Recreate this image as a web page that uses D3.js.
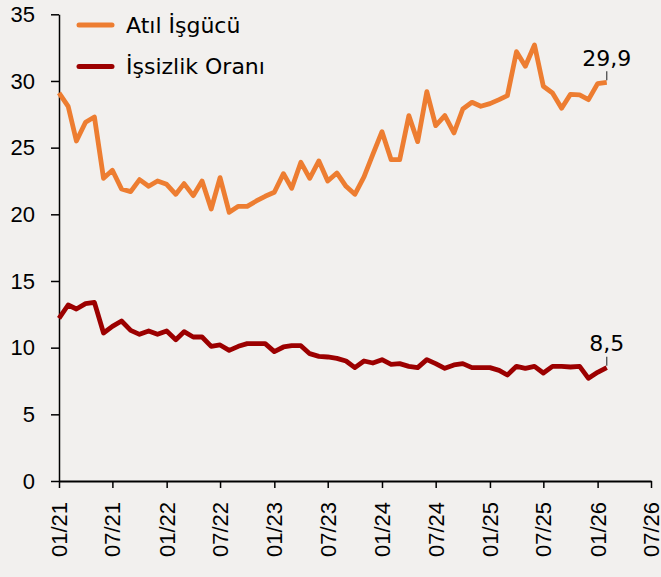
<!DOCTYPE html>
<html>
<head>
<meta charset="utf-8">
<script src="https://cdn.jsdelivr.net/npm/d3@7"></script>
<style>
    body { margin: 0; background: #f2f0ee; }
    svg { display: block; font-family: "DejaVu Sans", sans-serif; }
</style>
</head>
<body>
<div id="plot"></div>
<script>
// Monthly data, 01/2021 .. 02/2026.
var first_month = "2021-01-01";
var last_month = "2026-02-01";

var atil_isgucu = [
    29.1, 28.1, 25.5, 26.9, 27.3, 22.7, 23.3, 21.9, 21.7, 22.6,
    22.1, 22.5, 22.25, 21.5, 22.3, 21.4, 22.5, 20.4, 22.75, 20.15,
    20.6, 20.6, 21.0, 21.35, 21.65, 23.05, 21.95, 23.9, 22.7, 24.0,
    22.5, 23.1, 22.1, 21.5, 22.8, 24.5, 26.2, 24.1, 24.1, 27.4,
    25.45, 29.2, 26.65, 27.4, 26.1, 27.9, 28.4, 28.1, 28.3, 28.6,
    28.9, 32.2, 31.1, 32.7, 29.6, 29.1, 27.95, 29.0, 28.95, 28.6,
    29.8, 29.9
];

var issizlik_orani = [
    12.2, 13.2, 12.9, 13.3, 13.4, 11.1, 11.6, 12.0, 11.3, 11.0,
    11.25, 11.0, 11.25, 10.6, 11.2, 10.8, 10.8, 10.1, 10.2, 9.8,
    10.1, 10.3, 10.3, 10.3, 9.7, 10.05, 10.15, 10.15, 9.55, 9.35,
    9.3, 9.2, 9.0, 8.5, 9.0, 8.85, 9.1, 8.75, 8.8, 8.6,
    8.5, 9.1, 8.8, 8.45, 8.7, 8.8, 8.5, 8.5, 8.5, 8.3,
    7.95, 8.6, 8.45, 8.6, 8.1, 8.6, 8.6, 8.55, 8.6, 7.7,
    8.15, 8.5
];

var series_names = ["Atıl İşgücü", "İşsizlik Oranı"];
var series_colors = ["#ed7d31", "#9c0000"];
var end_labels = ["29,9", "8,5"];

var x_tick_labels = [
    "01/21", "07/21", "01/22", "07/22", "01/23", "07/23",
    "01/24", "07/24", "01/25", "07/25", "01/26", "07/26"
];
var y_ticks = [0, 5, 10, 15, 20, 25, 30, 35];

var width = 661, height = 577;
var left = 59, right = 651, top_y = 14.3, bottom = 481;

var svg = d3.select("div#plot")
    .append("svg")
        .attr("width", width)
        .attr("height", height)
        .attr("viewBox", "0 0 " + width + " " + height);

svg.append("rect")
    .attr("width", width)
    .attr("height", height)
    .attr("fill", "#f2f0ee");

var parse = d3.utcParse("%m/%y");
var months = d3.utcMonth.range(new Date(first_month), d3.utcMonth.offset(new Date(last_month), 1));
var tick_dates = x_tick_labels.map(parse);

var x_scale = d3.scaleUtc()
    .domain([tick_dates[0], tick_dates[tick_dates.length - 1]])
    .range([left, right]);

var y_scale = d3.scaleLinear()
    .domain([0, 35])
    .range([bottom, top_y]);

// Y axis.
var g_y_axis = svg.append("g")
    .attr("id", "y_axis")
    .attr("transform", "translate(" + left + ", 0)")
    .call(d3.axisLeft(y_scale).tickValues(y_ticks).tickSize(8).tickPadding(16).tickSizeOuter(0));
g_y_axis.select("path.domain").attr("stroke-width", 1.5);
g_y_axis.selectAll("line").attr("stroke-width", 1.5);
g_y_axis.selectAll("text")
    .style("font-size", "22px")
    .attr("fill", "#000");

// X axis.
var g_x_axis = svg.append("g")
    .attr("id", "x_axis")
    .attr("transform", "translate(0, " + bottom + ")")
    .call(d3.axisBottom(x_scale)
        .tickValues(tick_dates)
        .tickFormat((d, i) => x_tick_labels[i])
        .tickSize(7)
        .tickSizeOuter(0));
g_x_axis.select("path.domain").attr("stroke-width", 2);
g_x_axis.selectAll("line").attr("stroke-width", 1.5);
g_x_axis.selectAll("text")
    .style("font-size", "22px")
    .attr("fill", "#000")
    .attr("text-anchor", "end")
    .attr("dy", null)
    .attr("dominant-baseline", "central")
    .attr("transform", "rotate(-90)")
    .attr("x", -21)
    .attr("y", 0);

// Lines.
var all_series = [atil_isgucu, issizlik_orani];
var line = d3.line()
    .x((d, i) => x_scale(months[i]))
    .y(d => y_scale(d));

svg.append("g")
    .attr("id", "lines")
    .selectAll("path")
        .data(all_series)
        .join("path")
            .attr("d", line)
            .attr("fill", "none")
            .attr("stroke", (d, i) => series_colors[i])
            .attr("stroke-width", 4.8)
            .attr("stroke-linejoin", "round");

// End value labels with small leader lines.
var g_labels = svg.append("g").attr("id", "end_labels");
all_series.forEach(function(s, k) {
    var n = s.length - 1;
    var px = x_scale(months[n]), py = y_scale(s[n]);
    g_labels.append("line")
        .attr("x1", px).attr("x2", px)
        .attr("y1", py - 11).attr("y2", py - 2)
        .attr("stroke", "#404040")
        .attr("stroke-width", 1.2);
    g_labels.append("text")
        .attr("x", px)
        .attr("y", py - 16.5)
        .attr("text-anchor", "middle")
        .style("font-size", "22px")
        .text(end_labels[k]);
});

// Legend.
var g_legend = svg.append("g").attr("id", "legend");
series_names.forEach(function(name, k) {
    var ly = 25 + k * 41.5;
    g_legend.append("line")
        .attr("x1", 79).attr("x2", 112)
        .attr("y1", ly).attr("y2", ly)
        .attr("stroke", series_colors[k])
        .attr("stroke-width", 5)
        .attr("stroke-linecap", "round");
    g_legend.append("text")
        .attr("x", 126)
        .attr("y", ly)
        .attr("dominant-baseline", "central")
        .style("font-size", "22px")
        .text(name);
});
</script>
</body>
</html>
